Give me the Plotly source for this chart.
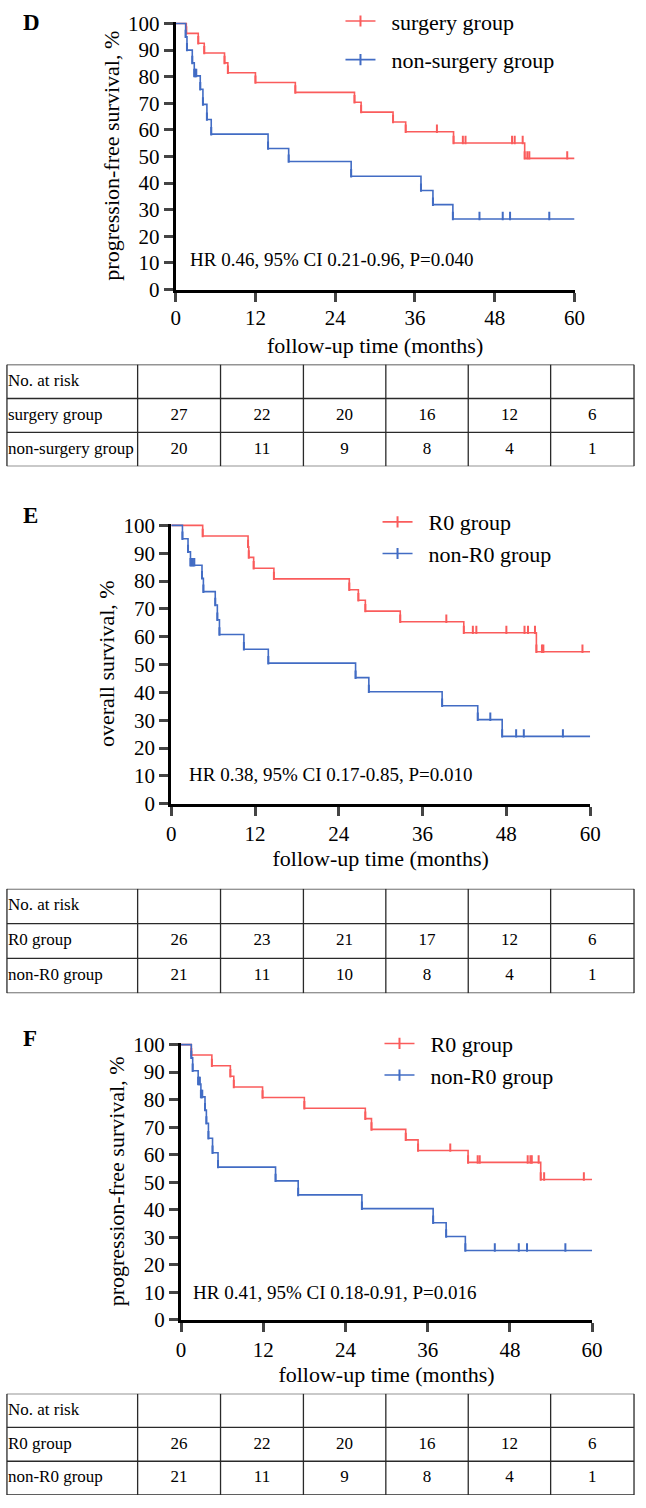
import plotly.graph_objects as go

FONT = "Liberation Serif"
RED = "rgb(250,92,92)"
BLUE = "rgb(66,108,196)"
W, H = 646, 1508

x_ticks = [0, 12, 24, 36, 48, 60]
y_ticks = [0, 10, 20, 30, 40, 50, 60, 70, 80, 90, 100]

# ---------------- Panel D : progression-free survival, surgery vs non-surgery
d_surg_t = [1.6, 3.4, 4.3, 7.35, 7.85, 12.0, 18.0, 26.9, 27.9, 32.7, 34.6, 41.8, 52.5]
d_surg_s = [96.3, 92.6, 88.9, 85.2, 81.5, 77.8, 74.1, 70.4, 66.7, 63.0, 59.3, 55.1, 49.3]
d_surg_c = [39.3, 43.2, 43.6, 50.6, 51.0, 52.2, 52.9, 53.2, 58.9]
d_non_t = [1.5, 1.7, 2.5, 2.8, 3.7, 4.1, 4.7, 5.35, 13.9, 17.0, 26.4, 36.9, 38.7, 41.7]
d_non_s = [95.0, 90.0, 85.2, 80.3, 75.3, 69.6, 63.9, 58.4, 53.0, 48.1, 42.6, 37.2, 31.9, 26.5]
d_non_c = [2.95, 3.1, 45.7, 49.2, 50.3, 56.2]

# ---------------- Panel E : overall survival, R0 vs non-R0
e_r0_t = [4.5, 11.0, 11.1, 11.8, 14.7, 25.5, 26.8, 27.8, 32.8, 41.9, 52.3]
e_r0_s = [96.2, 92.3, 88.5, 84.6, 80.8, 76.9, 73.1, 69.2, 65.4, 61.4, 54.6]
e_r0_c = [39.4, 43.2, 43.7, 48.0, 50.6, 51.1, 52.1, 53.1, 53.3, 58.9]
e_non_t = [1.6, 2.4, 2.75, 4.4, 4.6, 6.3, 6.6, 6.9, 10.4, 13.9, 26.4, 28.3, 38.8, 43.9, 47.4]
e_non_s = [95.2, 90.5, 85.7, 81.0, 76.2, 71.4, 66.1, 60.8, 55.5, 50.5, 45.3, 40.2, 35.2, 30.2, 24.2]
e_non_c = [2.9, 3.1, 3.3, 45.7, 49.4, 50.5, 56.1]

# ---------------- Panel F : progression-free survival, R0 vs non-R0
f_r0_t = [1.5, 4.5, 7.2, 7.7, 11.9, 18.0, 26.9, 27.8, 32.8, 34.6, 41.9, 52.5]
f_r0_s = [96.2, 92.3, 88.5, 84.6, 80.8, 76.9, 73.1, 69.2, 65.4, 61.5, 57.2, 51.0]
f_r0_c = [39.3, 43.3, 43.6, 50.6, 51.0, 51.2, 52.2, 53.0, 58.8]
f_non_t = [1.5, 1.7, 2.5, 2.9, 3.5, 3.7, 4.0, 4.6, 5.4, 13.8, 17.1, 26.4, 36.8, 38.7, 41.5]
f_non_s = [95.2, 90.5, 85.7, 81.0, 76.2, 71.4, 66.0, 60.7, 55.5, 50.5, 45.4, 40.4, 35.3, 30.3, 25.2]
f_non_c = [2.65, 2.75, 3.0, 3.1, 45.8, 49.3, 50.5, 56.1]

# ---------------- risk tables
risk_header = "No. at risk"
d_groups = ["surgery group", "non-surgery group"]
d_risk_a = [27, 22, 20, 16, 12, 6]
d_risk_b = [20, 11, 9, 8, 4, 1]
e_groups = ["R0 group", "non-R0 group"]
e_risk_a = [26, 23, 21, 17, 12, 6]
e_risk_b = [21, 11, 10, 8, 4, 1]
f_groups = ["R0 group", "non-R0 group"]
f_risk_a = [26, 22, 20, 16, 12, 6]
f_risk_b = [21, 11, 9, 8, 4, 1]

hr_d = "HR 0.46, 95% CI 0.21-0.96, P=0.040"
hr_e = "HR 0.38, 95% CI 0.17-0.85, P=0.010"
hr_f = "HR 0.41, 95% CI 0.18-0.91, P=0.016"

# table column edges in page pixels (layout, not data)
COL_EDGES = [2, 136, 221, 306, 390.5, 475, 559.5, 645]


def surv_at(times, surv, t):
    v = 100.0
    for ti, si in zip(times, surv):
        if ti <= t:
            v = si
    return v


panels = [
    dict(label="D", n=1, lg="legend",
         x0=175, x1=584, y0=282.0, y100=11.7,
         ytitle="progression-free survival, %", hr=hr_d, hrx=1.8, hry=11.2,
         a=(d_surg_t, d_surg_s, d_surg_c), b=(d_non_t, d_non_s, d_non_c),
         names=d_groups, risk=(d_risk_a, d_risk_b),
         leg_x=344, leg_y=-12, leg_gap=7, label_y=10.5,
         tls=-2, tstand=9, tab=(358.3, 461.7)),
    dict(label="E", n=2, lg="legend2",
         x0=170.5, x1=600, y0=804.5, y100=521.7,
         ytitle="overall survival, %", hr=hr_e, hrx=2.2, hry=10.4,
         a=(e_r0_t, e_r0_s, e_r0_c), b=(e_non_t, e_non_s, e_non_c),
         names=e_groups, risk=(e_risk_a, e_risk_b),
         leg_x=382, leg_y=497, leg_gap=0, label_y=512,
         tls=0, tstand=6, tab=(891, 997)),
    dict(label="F", n=3, lg="legend3",
         x0=180.5, x1=602, y0=1329.0, y100=1049.3,
         ytitle="progression-free survival, %", hr=hr_f, hrx=1.5, hry=9.8,
         a=(f_r0_t, f_r0_s, f_r0_c), b=(f_non_t, f_non_s, f_non_c),
         names=f_groups, risk=(f_risk_a, f_risk_b),
         leg_x=384, leg_y=1027, leg_gap=0, label_y=1043,
         tls=0, tstand=6, tab=(1404, 1507)),
]

fig = go.Figure()
layout = dict(
    width=W, height=H, margin=dict(l=0, r=0, t=0, b=0),
    paper_bgcolor="white", plot_bgcolor="white",
    font=dict(family=FONT, color="black"),
    showlegend=True, annotations=[], shapes=[],
)

YTOP = 100.6

for p in panels:
    k = p["n"]
    xa, ya = ("x" if k == 1 else "x%d" % k), ("y" if k == 1 else "y%d" % k)
    tx, ty = "x%d" % (k + 3), "y%d" % (k + 3)
    ppu = (p["y0"] - p["y100"]) / 100.0  # px per percent
    off = 3.0 / ppu
    grp_same = p["leg_gap"] == 0
    for (t, s, c), col, nm, grp in ((p["a"], RED, p["names"][0], "g1"),
                                    (p["b"], BLUE, p["names"][1], "g2")):
        fig.add_trace(go.Scatter(
            x=[0] + t + [60], y=[100] + s + [s[-1]], mode="lines",
            line=dict(color=col, width=1.6, shape="hv"),
            xaxis=xa, yaxis=ya, showlegend=False, hoverinfo="skip"))
        mk_x = list(c) + list(t)
        mk_y = [surv_at(t, s, ci) + off for ci in c] + [si + off for si in s]
        fig.add_trace(go.Scatter(
            x=mk_x, y=mk_y, mode="markers",
            marker=dict(symbol="line-ns", size=6, line=dict(color=col, width=2)),
            xaxis=xa, yaxis=ya, showlegend=False, hoverinfo="skip"))
        fig.add_trace(go.Scatter(
            x=[None], y=[None], mode="lines+markers", name="\u00a0\u00a0" + nm,
            line=dict(color=col, width=1.6),
            marker=dict(symbol="line-ns", size=8, line=dict(color=col, width=2)),
            xaxis=xa, yaxis=ya, legend=p["lg"],
            legendgroup=p["label"] + ("" if grp_same else grp)))

    # ---------- risk table on its own axes (x in page px, y in rows)
    centers = [(COL_EDGES[i] + COL_EDGES[i + 1]) / 2 for i in range(1, 7)]
    num_x, num_y, num_txt = [], [], []
    for r, vals in enumerate(p["risk"]):
        for cx, v in zip(centers, vals):
            num_x.append(cx)
            num_y.append(r + 1.5)
            num_txt.append(str(v))
    fig.add_trace(go.Scatter(
        x=num_x, y=num_y, text=num_txt, mode="text", textposition="middle center",
        textfont=dict(family=FONT, size=17, color="black"),
        xaxis=tx, yaxis=ty, showlegend=False, hoverinfo="skip"))
    fig.add_trace(go.Scatter(
        x=[COL_EDGES[0] + 1] * 3, y=[0.5, 1.5, 2.5],
        text=[risk_header] + p["names"], mode="text", textposition="middle right",
        textfont=dict(family=FONT, size=17, color="black"),
        xaxis=tx, yaxis=ty, showlegend=False, hoverinfo="skip"))
    for r in range(4):
        layout["shapes"].append(dict(type="line", xref=tx, yref=ty,
                                     x0=COL_EDGES[0], x1=COL_EDGES[-1], y0=r, y1=r,
                                     line=dict(color="#2a2a2a", width=1.3)))
    for ce in COL_EDGES:
        layout["shapes"].append(dict(type="line", xref=tx, yref=ty,
                                     x0=ce, x1=ce, y0=0, y1=3,
                                     line=dict(color="#2a2a2a", width=1.3)))
    layout["xaxis%d" % (k + 3)] = dict(domain=[0, 1], range=[0, W], visible=False,
                                       anchor=ty, fixedrange=True)
    layout["yaxis%d" % (k + 3)] = dict(domain=[1 - p["tab"][1] / H, 1 - p["tab"][0] / H],
                                       range=[3, 0], visible=False, anchor=tx,
                                       fixedrange=True)

    xk = "xaxis" if k == 1 else "xaxis%d" % k
    yk = "yaxis" if k == 1 else "yaxis%d" % k
    ydom_top = p["y0"] - ppu * YTOP
    layout[xk] = dict(
        domain=[p["x0"] / W, p["x1"] / W], range=[0, 60], anchor=ya,
        tickvals=x_ticks, ticks="outside", ticklen=9, tickwidth=3,
        ticklabelstandoff=p["tls"],
        showline=True, linewidth=3, linecolor="black", showgrid=False, zeroline=False,
        tickfont=dict(family=FONT, size=21, color="black"),
        title=dict(text="follow-up time (months)", standoff=p["tstand"],
                   font=dict(family=FONT, size=22, color="black")),
    )
    layout[yk] = dict(
        domain=[1 - p["y0"] / H, 1 - ydom_top / H], range=[0, YTOP], anchor=xa,
        tickvals=y_ticks, ticks="outside", ticklen=9, tickwidth=3,
        showline=True, linewidth=3, linecolor="black", showgrid=False, zeroline=False,
        tickfont=dict(family=FONT, size=21, color="black"),
        title=dict(text=p["ytitle"], standoff=3,
                   font=dict(family=FONT, size=22, color="black")),
    )
    layout[p["lg"]] = dict(
        x=p["leg_x"] / W, y=1 - p["leg_y"] / H, xanchor="left", yanchor="top",
        bgcolor="rgba(0,0,0,0)", itemwidth=30, tracegroupgap=p["leg_gap"],
        font=dict(family=FONT, size=22, color="black"),
    )
    layout["annotations"].append(dict(
        text=p["hr"], xref=xa, yref=ya, x=p["hrx"], y=p["hry"],
        xanchor="left", yanchor="middle", showarrow=False,
        font=dict(family=FONT, size=19, color="black")))
    layout["annotations"].append(dict(
        text="<b>" + p["label"] + "</b>", xref="paper", yref="paper",
        x=16 / W, y=1 - p["label_y"] / H, xanchor="left", yanchor="middle",
        showarrow=False, font=dict(family=FONT, size=23, color="black")))

fig.update_layout(**layout)
fig.write_html("out.html",
               config={"displayModeBar": False},
               post_script="document.body.style.margin='0px';document.body.style.overflow='hidden';")
